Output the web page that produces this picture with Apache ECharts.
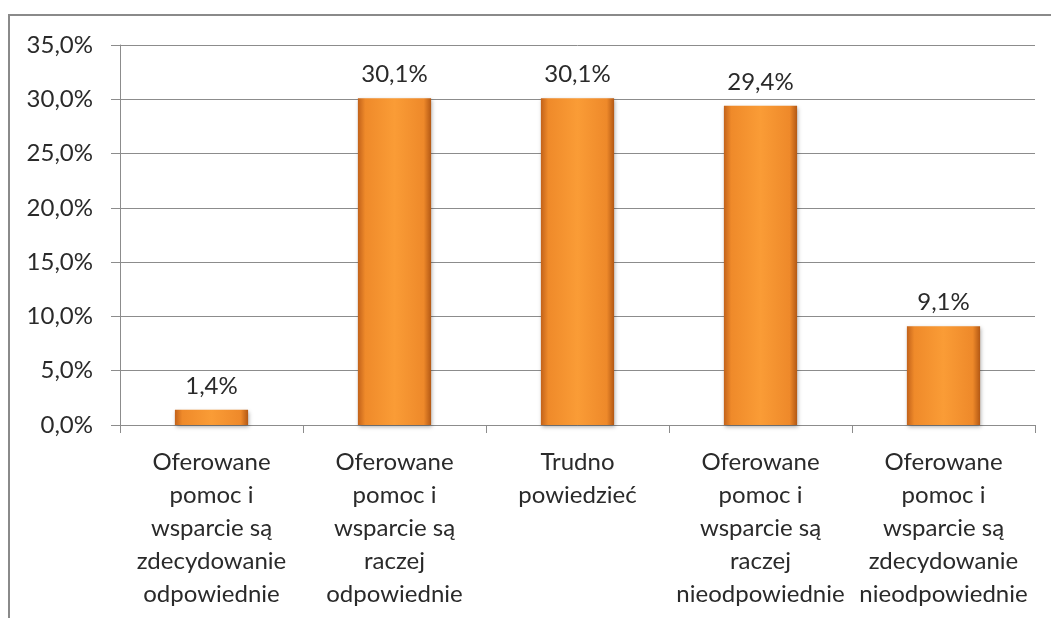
<!DOCTYPE html>
<html>
<head>
<meta charset="utf-8">
<script src="https://cdn.jsdelivr.net/npm/echarts@6/dist/echarts.min.js"></script>
<style>
  html, body { margin: 0; padding: 0; background: #fff; }
  #chart { width: 1051px; height: 618px; }
</style>
</head>
<body>
<div id="chart"></div>
<script>
const categories = [
  'Oferowane\npomoc i\nwsparcie są\nzdecydowanie\nodpowiednie',
  'Oferowane\npomoc i\nwsparcie są\nraczej\nodpowiednie',
  'Trudno\npowiedzieć',
  'Oferowane\npomoc i\nwsparcie są\nraczej\nnieodpowiednie',
  'Oferowane\npomoc i\nwsparcie są\nzdecydowanie\nnieodpowiednie'
];
const values = [1.4, 30.1, 30.1, 29.4, 9.1];
const yMin = 0, yMax = 35, yStep = 5;

const fmt = v => v.toFixed(1).replace('.', ',') + '%';
const font = 'Lato';
const txt = '#2a2a2a';

const barColor = new echarts.graphic.LinearGradient(0, 0, 1, 0, [
  { offset: 0, color: '#c2621a' },
  { offset: 0.1, color: '#ef8a2a' },
  { offset: 0.5, color: '#fa9c36' },
  { offset: 0.9, color: '#ee892a' },
  { offset: 1, color: '#b35814' }
]);

const chart = echarts.init(document.getElementById('chart'));
chart.setOption({
  animation: false,
  textStyle: { fontFamily: font },
  graphic: [{
    type: 'rect',
    shape: { x: 9, y: 15, width: 1200, height: 800 },
    style: { fill: 'none', stroke: '#8a8a8a', lineWidth: 2 }
  }],
  grid: { left: 120, top: 45, right: 16, bottom: 193 },
  xAxis: {
    type: 'category',
    data: categories,
    axisLine: { lineStyle: { color: '#8c8c8c', width: 1 } },
    axisTick: { show: true, length: 8, lineStyle: { color: '#8c8c8c' } },
    axisLabel: {
      interval: 0,
      color: txt,
      fontSize: 24,
      lineHeight: 33,
      margin: 21,
      fontFamily: font
    }
  },
  yAxis: {
    type: 'value',
    min: yMin,
    max: yMax,
    interval: yStep,
    axisLine: { show: true, lineStyle: { color: '#8c8c8c', width: 1 } },
    axisTick: { show: true, length: 9, lineStyle: { color: '#8c8c8c' } },
    splitLine: { lineStyle: { color: '#8c8c8c', width: 1 } },
    axisLabel: {
      color: txt,
      fontSize: 24,
      margin: 27,
      fontFamily: font,
      formatter: v => fmt(v)
    }
  },
  series: [{
    type: 'bar',
    data: values,
    barWidth: '40%',
    itemStyle: {
      color: barColor,
      shadowColor: 'rgba(0,0,0,0.3)',
      shadowBlur: 4,
      shadowOffsetX: 1,
      shadowOffsetY: 2
    },
    label: {
      show: true,
      position: 'top',
      distance: 12,
      color: txt,
      fontSize: 24,
      fontFamily: font,
      formatter: p => fmt(p.value)
    }
  }]
});
</script>
</body>
</html>
